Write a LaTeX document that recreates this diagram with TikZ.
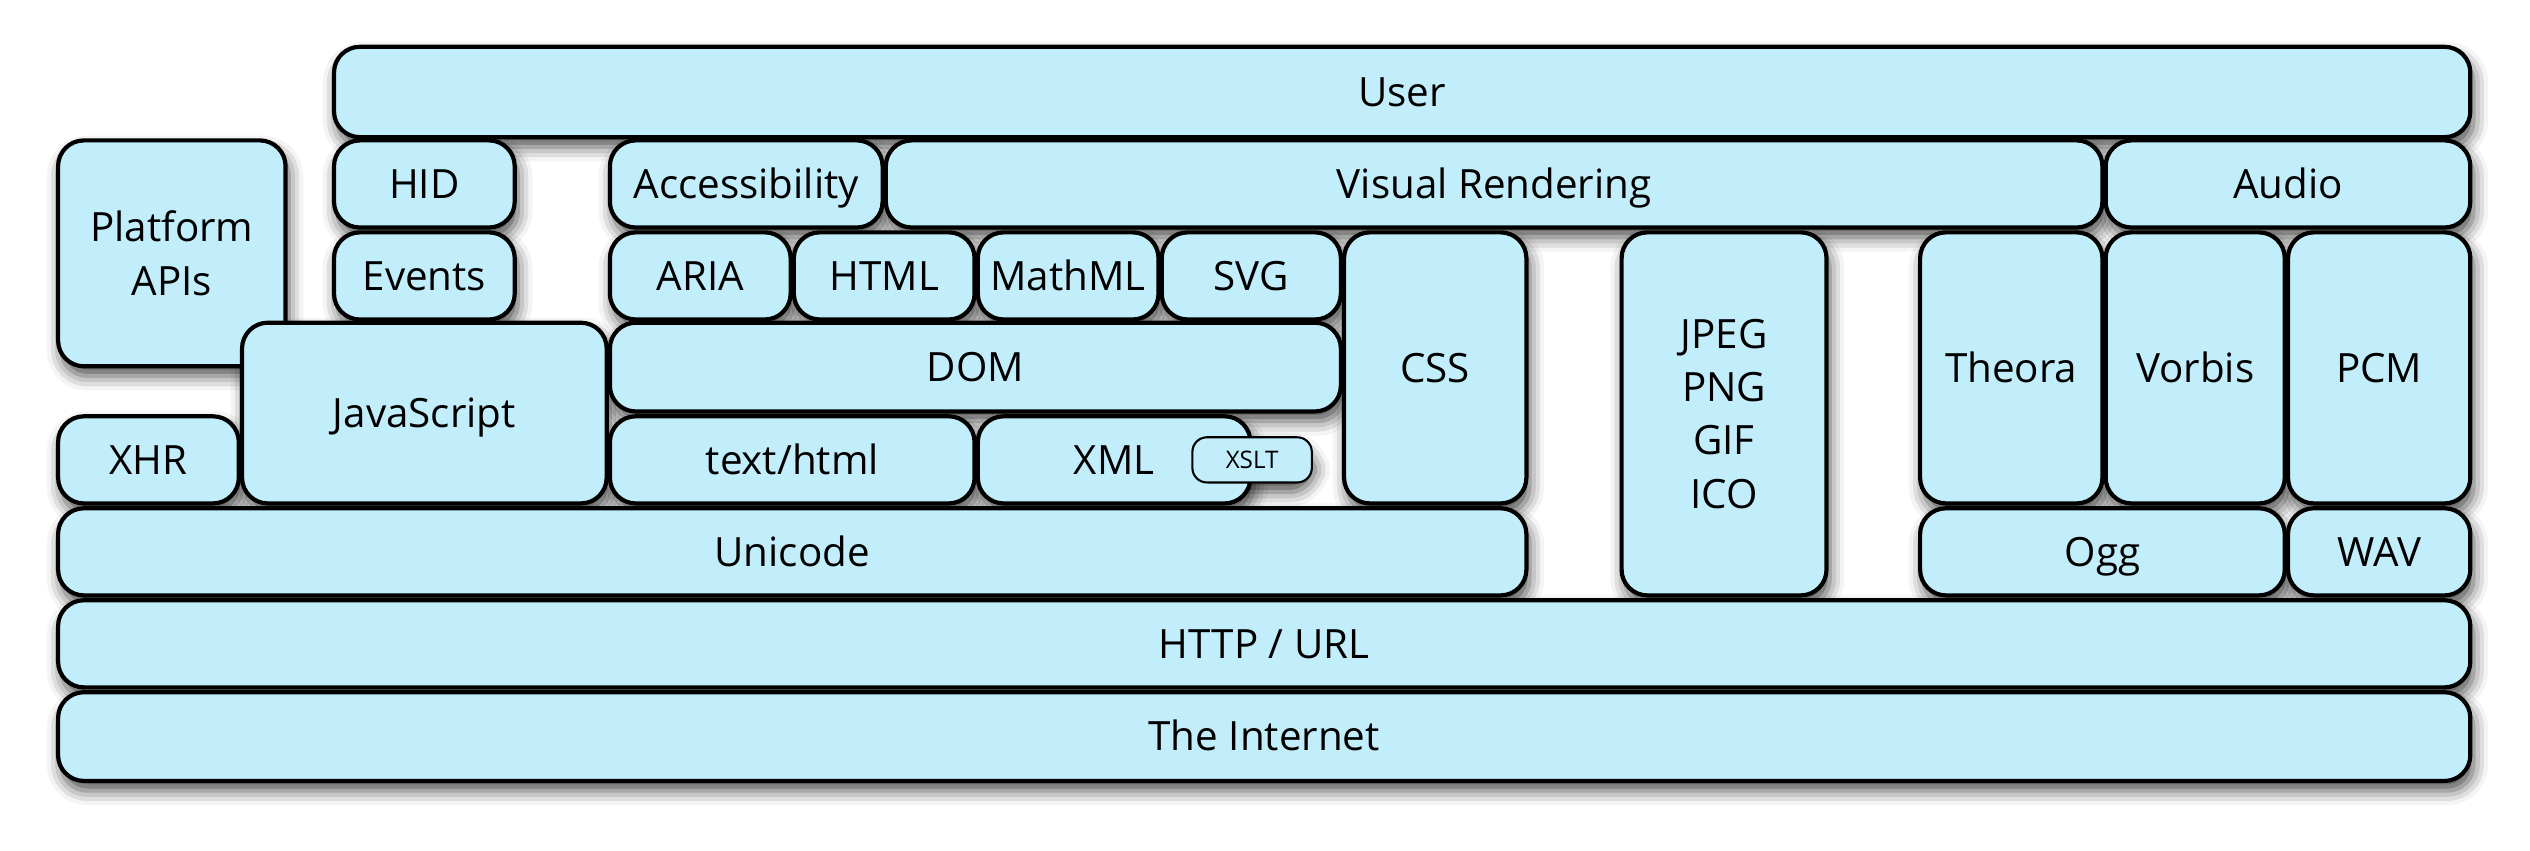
\documentclass[tikz,border=0pt]{standalone}
\usepackage{fontspec}
\setmainfont{Open Sans}
\usetikzlibrary{shadows.blur}
\definecolor{boxfill}{RGB}{194,238,252}
\tikzset{
  box/.style={draw=black, line width=1.3pt, fill=boxfill, rounded corners=8pt,
    inner sep=0pt, align=center, font=\fontsize{12.5}{16.5}\selectfont,
    text height=8.9pt, text depth=0pt},
  multibox/.style={draw=black, line width=1.3pt, fill=boxfill, rounded corners=8pt,
    inner sep=0pt, align=center, font=\fontsize{12.5}{16.5}\selectfont},
  smallbox/.style={box, line width=0.65pt, rounded corners=4.5pt, font=\fontsize{7.5}{8}\selectfont,
    text height=5.35pt},
  boxshadow/.style={fill=boxfill, rounded corners=8pt,
    blur shadow={shadow xshift=1pt, shadow yshift=-3pt, shadow blur radius=4.5pt, shadow opacity=70}},
}
\newcommand{\shadowpass}[7][box]{%
  \path[boxshadow] (#3,#4) rectangle (#5,#6);}
\newcommand{\nodepass}[7][box]{%
  \node[#1, minimum width={(#5-#3)*0.5pt}, minimum height={(#6-#4)*0.5pt}]
    (#2) at ({(#3+#5)/2},{(#4+#6)/2}) {#7};}
\newcommand{\alllayers}{%
  \bx{user}{207}{29}{1531}{85}{User}
  \bx{hid}{207}{87}{319}{141}{HID}
  \bx{access}{378}{87}{547}{141}{Accessibility}
  \bx{visual}{549}{87}{1303}{141}{Visual Rendering}
  \bx{audio}{1305}{87}{1531}{141}{Audio}
  \bx[multibox]{platform}{36}{87}{177}{227}{Platform\\APIs}
  \bx{events}{207}{144}{319}{198}{Events}
  \bx{aria}{378}{144}{490}{198}{ARIA}
  \bx{html}{492}{144}{604}{198}{HTML}
  \bx{mathml}{606}{144}{718}{198}{MathML}
  \bx{svg}{720}{144}{831}{198}{SVG}
  \bx{css}{833}{144}{946}{312}{CSS}
  \bx[multibox]{images}{1005}{144}{1132}{369}{JPEG\\PNG\\GIF\\ICO}
  \bx{theora}{1190}{144}{1303}{312}{Theora}
  \bx{vorbis}{1305}{144}{1416}{312}{Vorbis}
  \bx{pcm}{1418}{144}{1531}{312}{PCM}
  \bx{js}{150}{200}{376}{312}{JavaScript}
  \bx{dom}{378}{200}{831}{255}{DOM}
  \bx{xhr}{36}{258}{148}{312}{XHR}
  \bx{texthtml}{378}{258}{604}{312}{text/html}
  \bx{xml}{606}{258}{775}{312}{XML}
  \bx[smallbox]{xslt}{739}{271}{813}{299}{XSLT}
  \bx{unicode}{36}{315}{946}{369}{Unicode}
  \bx{ogg}{1190}{315}{1416}{369}{Ogg}
  \bx{wav}{1418}{315}{1531}{369}{WAV}
  \bx{http}{36}{372}{1531}{426}{HTTP / URL}
  \bx{internet}{36}{429}{1531}{484}{The Internet}
}
\begin{document}
\begin{tikzpicture}[x=0.5pt,y=-0.5pt]
  \useasboundingbox (0,0) rectangle (1568,527);
  \let\bx\shadowpass
  \alllayers
  \let\bx\nodepass
  \alllayers
\end{tikzpicture}
\end{document}
